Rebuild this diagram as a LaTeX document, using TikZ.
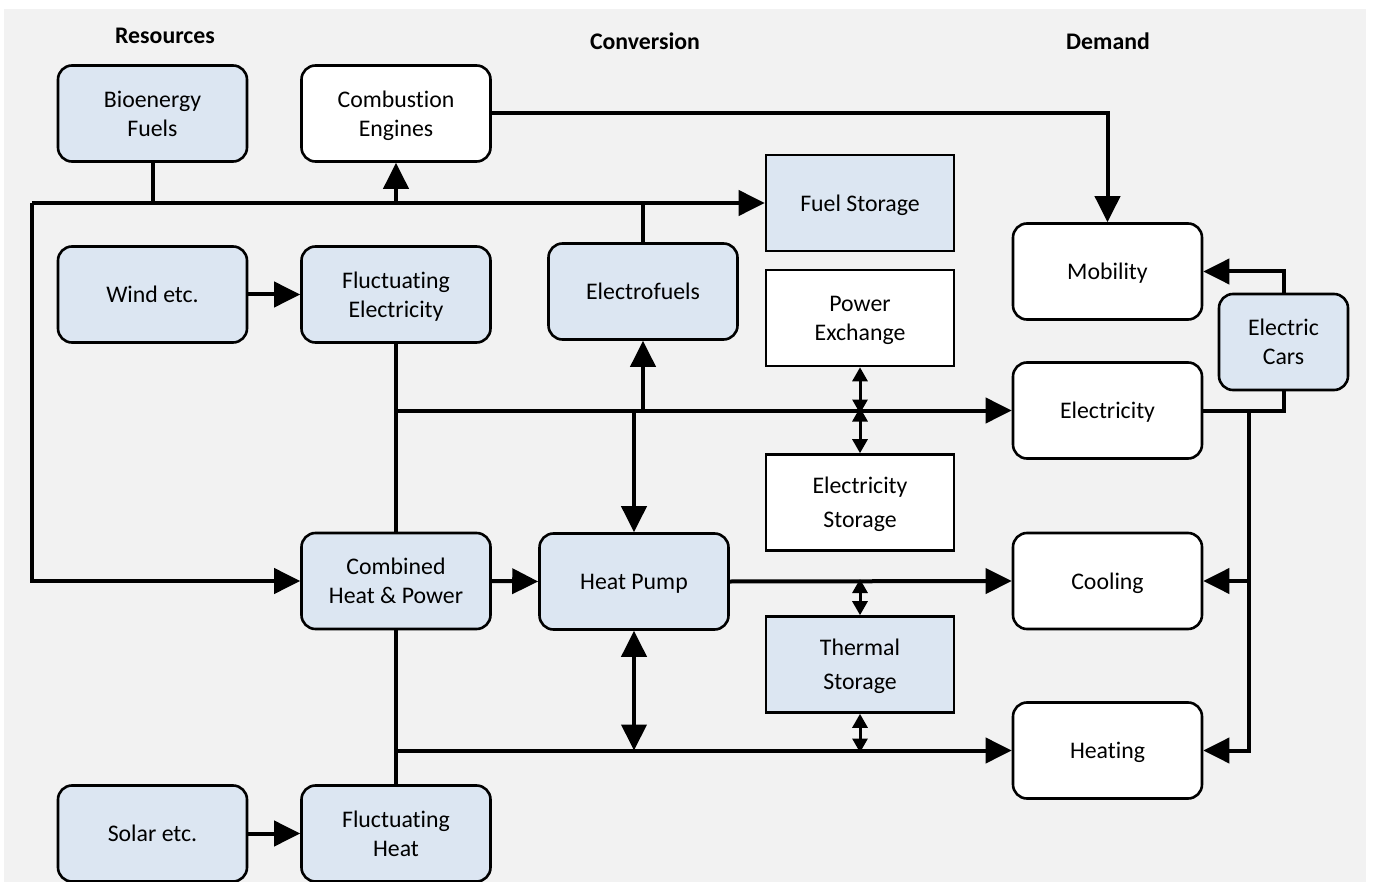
\documentclass[tikz,border=0pt]{standalone}
\usepackage{fontspec}
\setmainfont{Carlito}[Ligatures=CommonOff]
\usetikzlibrary{arrows.meta}
\definecolor{bgpanel}{HTML}{F2F2F2}
\definecolor{boxblue}{HTML}{DCE6F2}
\begin{document}
\begin{tikzpicture}[x=1pt,y=-1pt,
  font=\fontsize{23.8}{29}\selectfont,
  box/.style={draw=black,line width=2.6pt,rounded corners=14pt,minimum width=189pt,minimum height=96pt,align=center,inner sep=2pt,text depth=0pt},
  bluebox/.style={box,fill=boxblue},
  whitebox/.style={box,fill=white},
  sqbox/.style={draw=black,line width=2.6pt,minimum width=188pt,minimum height=96pt,align=center,inner sep=2pt,text depth=0pt},
  widelines/.style={font=\fontsize{23.8}{34}\selectfont},
  head/.style={font=\fontsize{23.8}{29}\selectfont\bfseries},
  conn/.style={line width=4pt},
  flow/.style={conn,-{Triangle[length=26pt,width=25pt]}},
  both/.style={conn,{Triangle[length=26pt,width=25pt]}-{Triangle[length=26pt,width=25pt]}},
  small/.style={line width=3pt,{Triangle[length=14pt,width=15pt]}-{Triangle[length=14pt,width=15pt]}}]

% canvas and panel
\useasboundingbox (0,0) rectangle (1373,882);
\fill[bgpanel] (4,9) rectangle (1366,882);

% column headings
\node[head] (hres) at (165,36) {Resources};
\node[head] (hconv) at (645,41) {Conversion};
\node[head] (hdem) at (1108,41) {Demand};

% resources
\node[bluebox] (bio) at (152.5,113.5) {Bioenergy\\Fuels};
\node[bluebox] (wind) at (152.5,294.5) {Wind etc.};
\node[bluebox] (solar) at (152.5,833.5) {Solar etc.};

% conversion
\node[whitebox] (comb) at (396,113.5) {Combustion\\Engines};
\node[bluebox] (fe) at (396,294.5) {Fluctuating\\Electricity};
\node[bluebox] (chp) at (396,581) {Combined\\Heat \& Power};
\node[bluebox] (fh) at (396,833.5) {Fluctuating\\Heat};
\node[bluebox] (efuel) at (643,291.5) {Electrofuels};
\node[bluebox] (hp) at (634,581.5) {Heat Pump};
\node[sqbox,fill=boxblue] (fuelst) at (860,203) {Fuel Storage};
\node[sqbox,fill=white] (powex) at (860,318) {Power\\Exchange};
\node[sqbox,fill=white,widelines] (elst) at (860,502.5) {Electricity\\Storage};
\node[sqbox,fill=boxblue,widelines] (thst) at (860,664.5) {Thermal\\Storage};

% demand
\node[whitebox] (mob) at (1107.5,271.5) {Mobility};
\node[whitebox] (elec) at (1107.5,410.5) {Electricity};
\node[whitebox] (cool) at (1107.5,581) {Cooling};
\node[whitebox] (heat) at (1107.5,750.5) {Heating};
\node[bluebox,minimum width=129pt] (ecars) at (1283.5,342) {Electric\\Cars};

% junction points
\coordinate (fuelbus) at (32,203);
\coordinate (dembus) at (1249,410.5);

% fuel bus
\draw[conn] (bio.south) -- (bio.south |- fuelst.west);
\draw[flow] (fuelbus) -- (fuelst.west);
\draw[flow] (fuelbus) |- (chp.west);
\draw[flow] (comb.south |- fuelst.west) -- (comb.south);
\draw[conn] (efuel.north) -- (efuel.north |- fuelst.west);
\draw[flow] (comb.east) -| (mob.north);

% electricity bus
\draw[flow] (wind.east) -- (fe.west);
\draw[conn] (fe.south) -- (chp.north);
\draw[flow] (fe.south |- elec.west) -- (elec.west);
\draw[flow] (efuel.south |- elec.west) -- (efuel.south);
\draw[flow] (hp.north |- elec.west) -- (hp.north);
\draw[small] (powex.south) -- ([yshift=-3pt]powex.south |- elec.west);
\draw[small] ([yshift=3pt]elst.north |- elec.west) -- (elst.north);

% heat and cooling
\draw[flow] (chp.east) -- (hp.west);
\draw[flow] (hp.east) -- (cool.west);
\draw[conn] (chp.south) -- (fh.north);
\draw[flow] (solar.east) -- (fh.west);
\draw[flow] (chp.south |- heat.west) -- (heat.west);
\draw[both] (hp.south) -- (hp.south |- heat.west);
\draw[small] ([yshift=2pt]thst.north |- cool.west) -- (thst.north);
\draw[small] (thst.south) -- ([yshift=-2pt]thst.south |- heat.west);

% demand side links
\draw[flow] (ecars.north) |- (mob.east);
\draw[conn] (elec.east) -| (ecars.south);
\draw[flow] (dembus) |- (cool.east);
\draw[flow] (dembus) |- (heat.east);
\end{tikzpicture}
\end{document}
